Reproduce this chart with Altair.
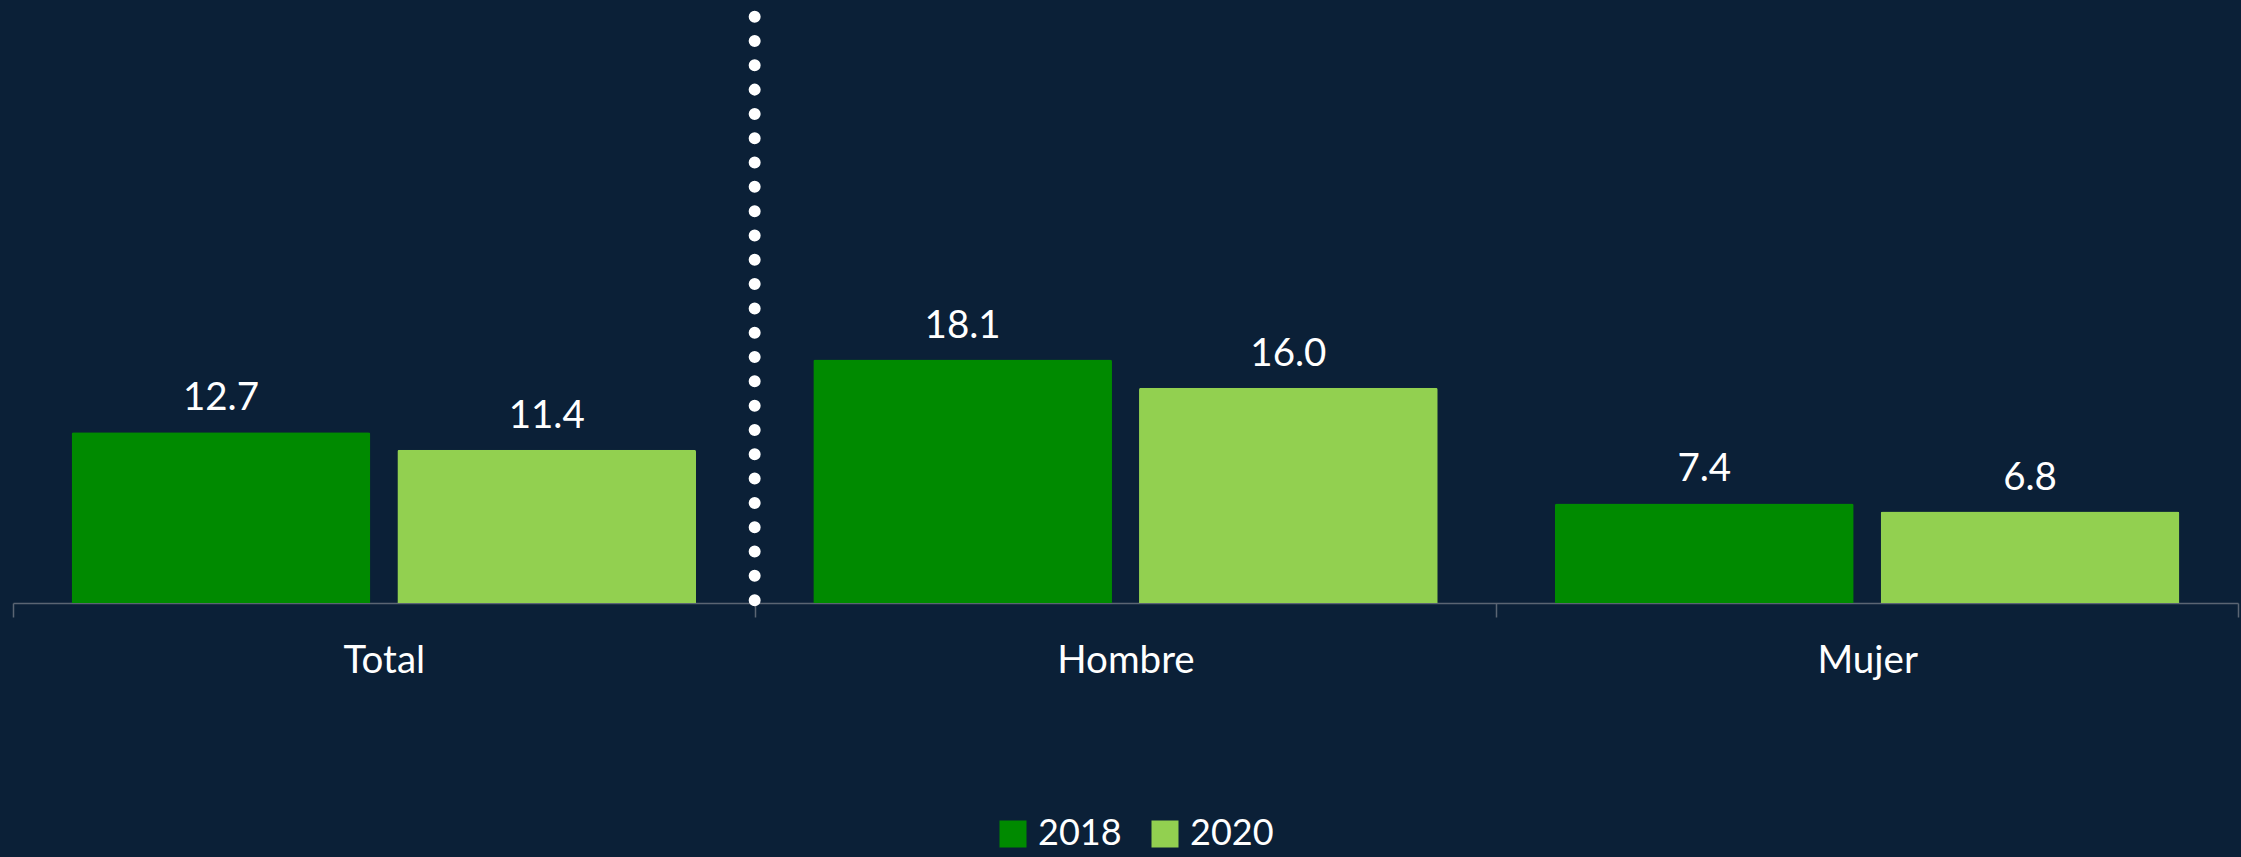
import altair as alt
import pandas as pd

categories = ["Total", "Hombre", "Mujer"]
years = ["2018", "2020"]
values_2018 = [12.7, 18.1, 7.4]
values_2020 = [11.4, 16.0, 6.8]
colors = ["#008A00", "#92D050"]
separator_after = ["Total"]

BG = "#0B2037"
AXIS_GRAY = "#5B6573"
FONT = "Lato"
FS = 38.5
LEG_FS = 36
Y_MAX = 43.8

# Page styling: dark page background without the default body margin.
MARGIN = 8
try:
    import altair.utils.html as _h
    _orig = _h.TEMPLATES["standard"]

    class _Wrap:
        def render(self, *a, **k):
            html = _orig.render(*a, **k)
            return html.replace(
                "<head>",
                "<head>\n<style>html,body{margin:0;padding:0;overflow:hidden;background:%s;}</style>" % BG,
                1,
            )

    _h.TEMPLATES["standard"] = _Wrap()
    MARGIN = 0
except Exception:
    MARGIN = 8

rows = []
for c, a, b in zip(categories, values_2018, values_2020):
    rows.append({"cat": c, "year": years[0], "value": a})
    rows.append({"cat": c, "year": years[1], "value": b})
df = pd.DataFrame(rows)

sep_df = pd.DataFrame({"cat": separator_after, "top": [43.6], "bottom": [0.0]})

x_axis = alt.Axis(
    title=None,
    labelAngle=0,
    tickBand="extent",
    tickSize=14,
    tickColor=AXIS_GRAY,
    domainColor=AXIS_GRAY,
    domainWidth=1.5,
    tickWidth=1.5,
    labelColor="white",
    labelFont=FONT,
    labelFontSize=FS,
    labelPadding=25,
)
x_scale = alt.Scale(paddingInner=0, paddingOuter=0)
x = alt.X("cat:N", sort=categories, scale=x_scale, axis=x_axis)
xoff = alt.XOffset("year:N", sort=years,
                   scale=alt.Scale(paddingInner=0.083, paddingOuter=0.18))
y_scale = alt.Scale(domain=[0, Y_MAX], nice=False, zero=True)
y = alt.Y("value:Q", scale=y_scale, axis=None)
color = alt.Color(
    "year:N",
    scale=alt.Scale(domain=years, range=colors),
    legend=alt.Legend(
        title=None,
        orient="none",
        direction="horizontal",
        legendX=982,
        legendY=802,
        symbolType="square",
        symbolSize=729,
        symbolStrokeWidth=0,
        labelColor="white",
        labelFont=FONT,
        labelFontSize=LEG_FS,
        labelOffset=7,
        columnPadding=25,
    ),
)

base = alt.Chart(df)
bars = base.mark_bar(cornerRadiusTopLeft=2, cornerRadiusTopRight=2).encode(
    x=x, xOffset=xoff, y=y, color=color
)
labels = base.mark_text(
    dy=-22, baseline="alphabetic", fontSize=FS, font=FONT, color="white"
).encode(x=x, xOffset=xoff, y=y, text=alt.Text("value:Q", format=".1f"))

sep = alt.Chart(sep_df).mark_rule(
    color="white", strokeWidth=12, strokeCap="round", strokeDash=[0.01, 24.3]
).encode(
    x=alt.X("cat:N", sort=categories, scale=x_scale, axis=x_axis, bandPosition=1),
    y=alt.Y("top:Q", scale=y_scale, axis=None),
    y2="bottom:Q",
)

if MARGIN == 0:
    pad = {"left": 13, "top": 14, "right": 3, "bottom": 254}
    width = 2225
else:
    pad = {"left": 5, "top": 6, "right": 0, "bottom": 240}
    width = 2220

chart = (
    alt.layer(bars, labels, sep)
    .properties(
        width=width,
        height=589,
        background=BG,
        padding=pad,
        autosize=alt.AutoSizeParams(type="none"),
    )
    .configure_view(stroke=None)
)

chart.save("out.html", embed_options={"renderer": "svg", "actions": False})
